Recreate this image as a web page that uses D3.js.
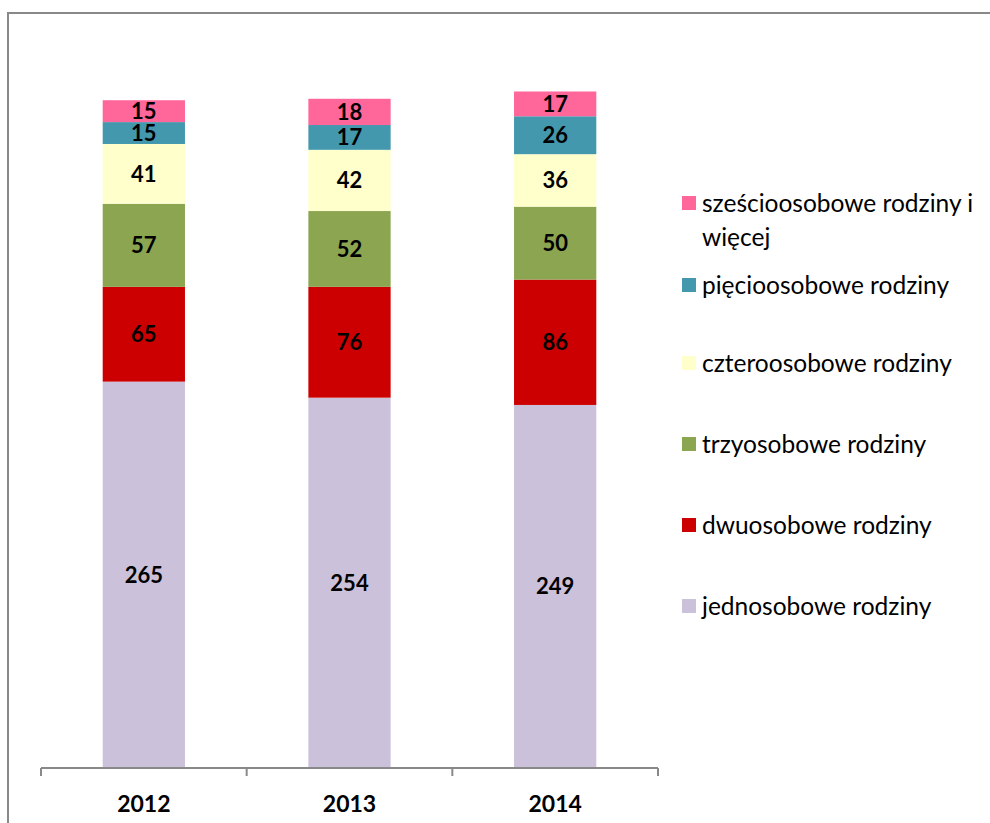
<!DOCTYPE html>
<html><head><meta charset="utf-8">
<script src="https://cdn.jsdelivr.net/npm/d3@7/dist/d3.min.js"></script>
<style>body{margin:0;background:#fff}svg{display:block}</style>
</head><body>
<svg id="c" width="990" height="823"></svg>
<script>
const years = ["2012","2013","2014"];
const seriesNames = ["jednosobowe rodziny","dwuosobowe rodziny","trzyosobowe rodziny","czteroosobowe rodziny","pięcioosobowe rodziny","sześcioosobowe rodziny i więcej"];
const legendLines = [["jednosobowe rodziny"],["dwuosobowe rodziny"],["trzyosobowe rodziny"],["czteroosobowe rodziny"],["pięcioosobowe rodziny"],["sześcioosobowe rodziny i","więcej"]];
const jedno = [265,254,249];
const dwu = [65,76,86];
const trzy = [57,52,50];
const cztero = [41,42,36];
const piecio = [15,17,26];
const szesc = [15,18,17];
const colors = ["#CCC1DA","#CC0000","#8BA550","#FFFFCC","#4398AE","#FF6699"];

const values = [jedno,dwu,trzy,cztero,piecio,szesc];
const rows = years.map((y,i)=>{const o={year:y}; seriesNames.forEach((s,k)=>o[s]=values[k][i]); return o;});
const stack = d3.stack().keys(seriesNames)(rows);

const svg = d3.select("#c");
svg.append("rect").attr("x",8).attr("y",13).attr("width",990).attr("height",830)
  .attr("fill","none").attr("stroke","#898989").attr("stroke-width",2);

const x = d3.scaleBand().domain(years).range([41,658]).paddingInner(0).paddingOuter(0);
const y = d3.scaleLinear().domain([0,500]).range([768,39]);
const bw = x.bandwidth()*0.4;
const font = "Lato, 'Open Sans', sans-serif";

const g = svg.append("g");
stack.forEach((layer,k)=>{
  g.selectAll(null).data(layer).enter().append("rect")
    .attr("x",d=>x(d.data.year)+x.bandwidth()/2-bw/2)
    .attr("width",bw)
    .attr("y",d=>y(d[1]))
    .attr("height",d=>y(d[0])-y(d[1]))
    .attr("fill",colors[k]);
  g.selectAll(null).data(layer).enter().append("text")
    .attr("x",d=>x(d.data.year)+x.bandwidth()/2)
    .attr("y",d=>(y(d[0])+y(d[1]))/2)
    .attr("dy","0.36em")
    .attr("text-anchor","middle")
    .attr("font-family",font).attr("font-weight","bold").attr("font-size",22)
    .attr("fill","#000")
    .text(d=>d[1]-d[0]);
});

// x axis
const ax = svg.append("g").attr("transform","translate(0,768)");
ax.append("line").attr("x1",41).attr("x2",658).attr("stroke","#898989").attr("stroke-width",2);
const tickPos = years.map(d=>x(d)).concat([x(years[years.length-1])+x.bandwidth()]);
ax.selectAll(null).data(tickPos).enter().append("line")
  .attr("x1",d=>d).attr("x2",d=>d).attr("y1",0).attr("y2",8)
  .attr("stroke","#898989").attr("stroke-width",2);
ax.selectAll(null).data(years).enter().append("text")
  .attr("x",d=>x(d)+x.bandwidth()/2).attr("y",35.5).attr("dy","0.36em")
  .attr("text-anchor","middle")
  .attr("font-family",font).attr("font-weight","bold").attr("font-size",23)
  .text(d=>d);

// legend (top to bottom: reversed order)
const legendY = [203,285,363,444,525,606];
const order = [5,4,3,2,1,0];
const lg = svg.append("g");
order.forEach((k,i)=>{
  const cy = legendY[i];
  lg.append("rect").attr("x",682).attr("y",cy-7).attr("width",14).attr("height",14).attr("fill",colors[k]);
  const t = lg.append("text").attr("x",702).attr("y",cy)
    .attr("font-family",font).attr("font-size",24.5).attr("fill","#000");
  legendLines[k].forEach((ln,j)=>{
    t.append("tspan").attr("x",702).attr("dy", j===0? "0.36em":"34px").text(ln);
  });
});
</script>
</body></html>
